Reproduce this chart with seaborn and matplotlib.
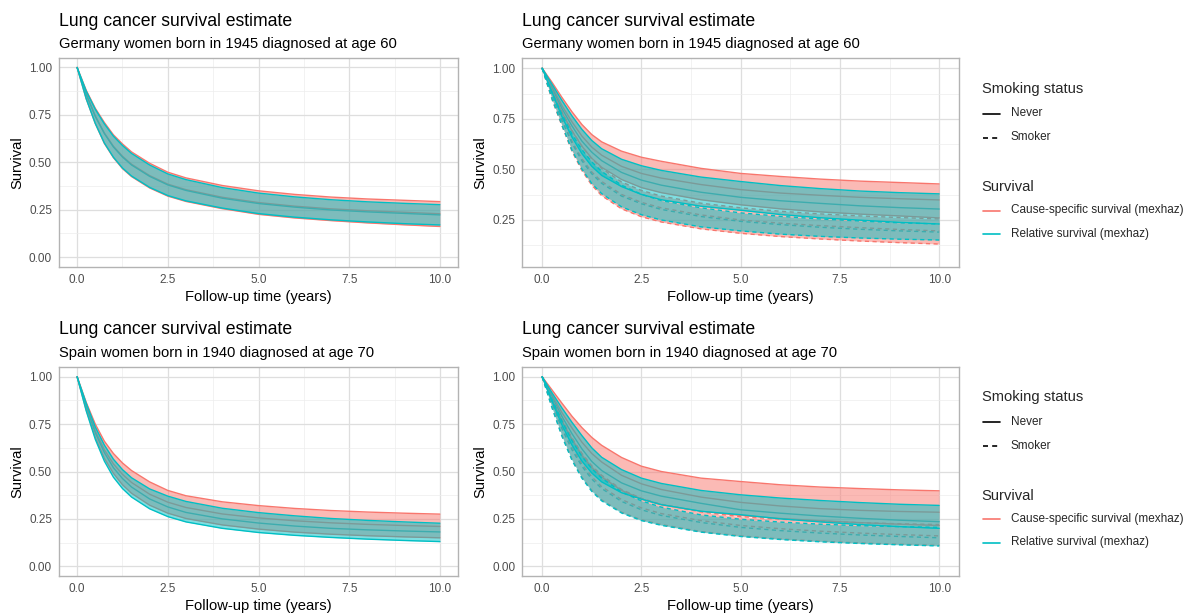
import numpy as np
import pandas as pd
import matplotlib
matplotlib.use("Agg")
import matplotlib.pyplot as plt
import seaborn as sns
from matplotlib.lines import Line2D
from matplotlib.ticker import FixedLocator, FormatStrFormatter

# ===================
# Data (survival estimate, lower / upper CI)
# ===================
TIME = [0, 0.25, 0.5, 0.75, 1, 1.25, 1.5, 2, 2.5, 3, 4, 5, 6, 7, 8, 9, 10]

# Germany, women born 1945, diagnosed at 60 - all
GER_ALL_CSS_EST = [1, 0.860, 0.745, 0.655, 0.585, 0.532, 0.490, 0.430, 0.385, 0.356, 0.316, 0.288, 0.269, 0.255, 0.245, 0.237, 0.229]
GER_ALL_CSS_HI = [1, 0.880, 0.785, 0.710, 0.645, 0.597, 0.555, 0.495, 0.448, 0.418, 0.378, 0.350, 0.331, 0.317, 0.307, 0.300, 0.293]
GER_ALL_CSS_LO = [1, 0.835, 0.705, 0.600, 0.525, 0.467, 0.425, 0.365, 0.322, 0.294, 0.256, 0.226, 0.207, 0.193, 0.181, 0.171, 0.162]
GER_ALL_RS_EST = [1, 0.858, 0.742, 0.652, 0.581, 0.528, 0.486, 0.426, 0.381, 0.352, 0.311, 0.283, 0.264, 0.249, 0.239, 0.231, 0.223]
GER_ALL_RS_HI = [1, 0.876, 0.780, 0.703, 0.638, 0.589, 0.547, 0.486, 0.439, 0.409, 0.367, 0.338, 0.318, 0.303, 0.292, 0.284, 0.277]
GER_ALL_RS_LO = [1, 0.835, 0.705, 0.602, 0.527, 0.470, 0.428, 0.368, 0.325, 0.297, 0.259, 0.230, 0.211, 0.197, 0.186, 0.177, 0.170]

# Germany - by smoking status
GER_NEV_CSS_EST = [1, 0.910, 0.815, 0.735, 0.665, 0.610, 0.570, 0.515, 0.480, 0.457, 0.425, 0.400, 0.383, 0.372, 0.362, 0.355, 0.349]
GER_NEV_CSS_HI = [1, 0.930, 0.855, 0.785, 0.722, 0.672, 0.636, 0.590, 0.560, 0.540, 0.505, 0.480, 0.465, 0.452, 0.442, 0.435, 0.428]
GER_NEV_CSS_LO = [1, 0.890, 0.780, 0.690, 0.615, 0.555, 0.510, 0.450, 0.410, 0.385, 0.350, 0.325, 0.305, 0.290, 0.279, 0.270, 0.260]
GER_NEV_RS_EST = [1, 0.900, 0.800, 0.715, 0.640, 0.585, 0.543, 0.485, 0.447, 0.422, 0.387, 0.362, 0.345, 0.332, 0.320, 0.311, 0.304]
GER_NEV_RS_HI = [1, 0.920, 0.840, 0.765, 0.698, 0.643, 0.602, 0.550, 0.518, 0.495, 0.462, 0.440, 0.420, 0.405, 0.393, 0.385, 0.379]
GER_NEV_RS_LO = [1, 0.880, 0.760, 0.660, 0.578, 0.515, 0.470, 0.415, 0.376, 0.350, 0.318, 0.298, 0.277, 0.261, 0.249, 0.238, 0.230]
GER_SMK_CSS_EST = [1, 0.870, 0.750, 0.640, 0.553, 0.487, 0.440, 0.376, 0.337, 0.310, 0.275, 0.250, 0.234, 0.222, 0.212, 0.203, 0.196]
GER_SMK_CSS_HI = [1, 0.890, 0.785, 0.692, 0.615, 0.552, 0.505, 0.438, 0.396, 0.368, 0.333, 0.310, 0.293, 0.280, 0.270, 0.262, 0.255]
GER_SMK_CSS_LO = [1, 0.845, 0.715, 0.590, 0.495, 0.422, 0.370, 0.305, 0.266, 0.240, 0.206, 0.184, 0.168, 0.156, 0.146, 0.138, 0.131]
GER_SMK_RS_EST = [1, 0.865, 0.740, 0.630, 0.543, 0.478, 0.431, 0.368, 0.330, 0.302, 0.267, 0.243, 0.227, 0.214, 0.204, 0.196, 0.190]
GER_SMK_RS_HI = [1, 0.880, 0.770, 0.675, 0.598, 0.537, 0.490, 0.422, 0.377, 0.346, 0.310, 0.285, 0.268, 0.255, 0.245, 0.236, 0.230]
GER_SMK_RS_LO = [1, 0.848, 0.718, 0.595, 0.502, 0.430, 0.380, 0.315, 0.276, 0.250, 0.216, 0.196, 0.180, 0.169, 0.161, 0.155, 0.151]

# Spain, women born 1940, diagnosed at 70 - all
ESP_ALL_CSS_EST = [1, 0.845, 0.715, 0.615, 0.540, 0.485, 0.442, 0.380, 0.338, 0.310, 0.276, 0.255, 0.240, 0.229, 0.221, 0.215, 0.210]
ESP_ALL_CSS_HI = [1, 0.865, 0.750, 0.660, 0.595, 0.545, 0.505, 0.445, 0.400, 0.372, 0.340, 0.320, 0.305, 0.294, 0.286, 0.280, 0.275]
ESP_ALL_CSS_LO = [1, 0.825, 0.680, 0.570, 0.490, 0.430, 0.385, 0.322, 0.280, 0.252, 0.218, 0.196, 0.180, 0.169, 0.161, 0.155, 0.150]
ESP_ALL_RS_EST = [1, 0.840, 0.705, 0.600, 0.520, 0.463, 0.418, 0.355, 0.313, 0.284, 0.250, 0.228, 0.212, 0.200, 0.192, 0.186, 0.181]
ESP_ALL_RS_HI = [1, 0.860, 0.735, 0.640, 0.565, 0.510, 0.467, 0.408, 0.370, 0.342, 0.306, 0.283, 0.266, 0.252, 0.242, 0.234, 0.227]
ESP_ALL_RS_LO = [1, 0.820, 0.670, 0.555, 0.470, 0.410, 0.365, 0.303, 0.262, 0.234, 0.200, 0.178, 0.163, 0.152, 0.143, 0.136, 0.130]

# Spain - by smoking status
ESP_NEV_CSS_EST = [1, 0.905, 0.810, 0.730, 0.655, 0.595, 0.550, 0.480, 0.435, 0.405, 0.365, 0.337, 0.318, 0.304, 0.295, 0.289, 0.285]
ESP_NEV_CSS_HI = [1, 0.930, 0.860, 0.792, 0.732, 0.680, 0.638, 0.574, 0.528, 0.500, 0.465, 0.447, 0.430, 0.418, 0.410, 0.403, 0.398]
ESP_NEV_CSS_LO = [1, 0.880, 0.765, 0.670, 0.585, 0.520, 0.470, 0.400, 0.355, 0.325, 0.290, 0.268, 0.252, 0.240, 0.230, 0.222, 0.215]
ESP_NEV_RS_EST = [1, 0.895, 0.790, 0.700, 0.620, 0.553, 0.505, 0.440, 0.398, 0.370, 0.332, 0.298, 0.280, 0.265, 0.253, 0.243, 0.235]
ESP_NEV_RS_HI = [1, 0.915, 0.835, 0.760, 0.690, 0.625, 0.575, 0.510, 0.465, 0.437, 0.400, 0.377, 0.360, 0.347, 0.336, 0.327, 0.321]
ESP_NEV_RS_LO = [1, 0.870, 0.745, 0.640, 0.555, 0.492, 0.445, 0.388, 0.354, 0.325, 0.290, 0.272, 0.250, 0.234, 0.220, 0.209, 0.200]
ESP_SMK_CSS_EST = [1, 0.865, 0.735, 0.628, 0.540, 0.472, 0.420, 0.352, 0.308, 0.278, 0.241, 0.215, 0.198, 0.185, 0.175, 0.167, 0.160]
ESP_SMK_CSS_HI = [1, 0.885, 0.775, 0.678, 0.596, 0.530, 0.480, 0.405, 0.358, 0.327, 0.286, 0.262, 0.248, 0.238, 0.230, 0.224, 0.220]
ESP_SMK_CSS_LO = [1, 0.840, 0.690, 0.565, 0.470, 0.400, 0.350, 0.285, 0.245, 0.220, 0.183, 0.160, 0.144, 0.132, 0.123, 0.116, 0.110]
ESP_SMK_RS_EST = [1, 0.860, 0.725, 0.615, 0.528, 0.460, 0.410, 0.342, 0.298, 0.268, 0.231, 0.205, 0.188, 0.175, 0.165, 0.157, 0.150]
ESP_SMK_RS_HI = [1, 0.880, 0.765, 0.663, 0.580, 0.515, 0.465, 0.392, 0.345, 0.312, 0.271, 0.248, 0.233, 0.222, 0.214, 0.209, 0.205]
ESP_SMK_RS_LO = [1, 0.835, 0.685, 0.560, 0.465, 0.395, 0.345, 0.281, 0.241, 0.216, 0.180, 0.157, 0.141, 0.129, 0.120, 0.113, 0.107]

TITLE = "Lung cancer survival estimate"
SUBTITLES = {
    "ger_all": "Germany women born in 1945 diagnosed at age 60",
    "ger_smk": "Germany women born in 1945 diagnosed at age 60",
    "esp_all": "Spain women born in 1940 diagnosed at age 70",
    "esp_smk": "Spain women born in 1940 diagnosed at age 70",
}
CSS = "Cause-specific survival (mexhaz)"
RS = "Relative survival (mexhaz)"
SMOKING_LEVELS = ["Never", "Smoker"]
X_TICKS = [0, 2.5, 5, 7.5, 10]
Y_TICKS = [0, 0.25, 0.5, 0.75, 1.0]

# ===================
# Long table
# ===================
series = [
    ("ger_all", CSS, "Never", GER_ALL_CSS_EST, GER_ALL_CSS_LO, GER_ALL_CSS_HI),
    ("ger_all", RS, "Never", GER_ALL_RS_EST, GER_ALL_RS_LO, GER_ALL_RS_HI),
    ("ger_smk", CSS, "Never", GER_NEV_CSS_EST, GER_NEV_CSS_LO, GER_NEV_CSS_HI),
    ("ger_smk", CSS, "Smoker", GER_SMK_CSS_EST, GER_SMK_CSS_LO, GER_SMK_CSS_HI),
    ("ger_smk", RS, "Never", GER_NEV_RS_EST, GER_NEV_RS_LO, GER_NEV_RS_HI),
    ("ger_smk", RS, "Smoker", GER_SMK_RS_EST, GER_SMK_RS_LO, GER_SMK_RS_HI),
    ("esp_all", CSS, "Never", ESP_ALL_CSS_EST, ESP_ALL_CSS_LO, ESP_ALL_CSS_HI),
    ("esp_all", RS, "Never", ESP_ALL_RS_EST, ESP_ALL_RS_LO, ESP_ALL_RS_HI),
    ("esp_smk", CSS, "Never", ESP_NEV_CSS_EST, ESP_NEV_CSS_LO, ESP_NEV_CSS_HI),
    ("esp_smk", CSS, "Smoker", ESP_SMK_CSS_EST, ESP_SMK_CSS_LO, ESP_SMK_CSS_HI),
    ("esp_smk", RS, "Never", ESP_NEV_RS_EST, ESP_NEV_RS_LO, ESP_NEV_RS_HI),
    ("esp_smk", RS, "Smoker", ESP_SMK_RS_EST, ESP_SMK_RS_LO, ESP_SMK_RS_HI),
]
rows = []
for panel, surv, smoke, est, lo, hi in series:
    for t, e, l, h in zip(TIME, est, lo, hi):
        rows.append({"panel": panel, "survival": surv, "smoking": smoke,
                     "time": t, "est": e, "lo": l, "hi": h})
df = pd.DataFrame(rows)

# ===================
# Style (ggplot theme_light look)
# ===================
sns.set_theme(style="white")
plt.rcParams["font.family"] = ["Liberation Sans", "DejaVu Sans"]

PALETTE = {CSS: "#F8766D", RS: "#00BFC4"}
DASHES = {"Never": "", "Smoker": (3, 2.5)}
LS = {"Never": "-", "Smoker": (0, (3, 2.5))}

W, H = 1197, 614
BASE = 10.6
fig = plt.figure(figsize=(W / 100, H / 100), dpi=100)

# pixel boxes: left, top, right, bottom
BOXES = {
    "ger_all": (59, 58, 458, 266.7),
    "ger_smk": (522.3, 58.3, 959, 266.7),
    "esp_all": (59, 367.3, 458, 575.7),
    "esp_smk": (522.3, 367.3, 959, 575.7),
}
YLIMS = {"ger_all": (-0.05, 1.05), "ger_smk": (0.019, 1.049),
         "esp_all": (-0.05, 1.05), "esp_smk": (-0.05, 1.05)}
TITLE_Y = {"ger_all": 25.7, "ger_smk": 25.7, "esp_all": 334.5, "esp_smk": 334.5}

for panel, (l, t, r, b) in BOXES.items():
    ax = fig.add_axes([l / W, 1 - b / H, (r - l) / W, (b - t) / H])
    sub = df[df["panel"] == panel]

    # estimate lines first, ribbons drawn over them
    sns.lineplot(data=sub, x="time", y="est", hue="survival", style="smoking",
                 palette=PALETTE, dashes=DASHES, hue_order=[CSS, RS],
                 style_order=SMOKING_LEVELS, estimator=None, errorbar=None,
                 linewidth=1.0, legend=False, ax=ax, zorder=2)

    z = 3
    for surv in [CSS, RS]:
        for smoke in SMOKING_LEVELS:
            g = sub[(sub["survival"] == surv) & (sub["smoking"] == smoke)]
            if g.empty:
                continue
            col = PALETTE[surv]
            ax.fill_between(g["time"], g["lo"], g["hi"], color=col, alpha=0.5,
                            linewidth=0, zorder=z)
            ax.plot(g["time"], g["lo"], color=col, ls=LS[smoke], lw=1.0, zorder=z + 1)
            ax.plot(g["time"], g["hi"], color=col, ls=LS[smoke], lw=1.0, zorder=z + 1)
            z += 2

    ax.set_xlim(-0.5, 10.5)
    ax.set_ylim(*YLIMS[panel])
    ax.xaxis.set_major_locator(FixedLocator(X_TICKS))
    ax.yaxis.set_major_locator(FixedLocator(Y_TICKS))
    ax.xaxis.set_minor_locator(FixedLocator([1.25, 3.75, 6.25, 8.75]))
    ax.yaxis.set_minor_locator(FixedLocator([0.125, 0.375, 0.625, 0.875]))
    ax.xaxis.set_major_formatter(FormatStrFormatter("%.1f"))
    ax.yaxis.set_major_formatter(FormatStrFormatter("%.2f"))
    ax.grid(which="major", color="#DEDEDE", linewidth=0.9)
    ax.grid(which="minor", color="#EDEDED", linewidth=0.5)
    ax.set_axisbelow(True)
    ax.set_facecolor("white")
    for sp in ax.spines.values():
        sp.set_color("#B3B3B3")
        sp.set_linewidth(1.0)
    ax.tick_params(which="major", length=2.5, width=0.8, color="#B3B3B3",
                   labelsize=BASE * 0.8, labelcolor="#4D4D4D", pad=2.5)
    ax.tick_params(which="minor", length=0)

    ax.set_xlabel("Follow-up time (years)", fontsize=BASE, color="black")
    ax.set_ylabel("Survival", fontsize=BASE, color="black")
    # label positions relative to each panel box
    ax.xaxis.set_label_coords(0.5, -23.5 / (b - t))
    ax.yaxis.set_label_coords(-34.5 / (r - l), 0.5)

    fig.text(l / W, 1 - TITLE_Y[panel] / H, TITLE, fontsize=BASE * 1.2,
             color="black", ha="left", va="baseline")
    fig.text(l / W, 1 - (TITLE_Y[panel] + 22.3) / H, SUBTITLES[panel],
             fontsize=BASE, color="black", ha="left", va="baseline")

# ===================
# Legends (drawn beside the right-hand panels)
# ===================
def draw_legend(y0):
    fig.text(981.7 / W, 1 - y0 / H, "Smoking status", fontsize=BASE,
             ha="left", va="center")
    fig.text(981.7 / W, 1 - (y0 + 98) / H, "Survival", fontsize=BASE,
             ha="left", va="center")
    keys = [
        (y0 + 24.5, "black", "-", "Never"),
        (y0 + 48.5, "black", (0, (3, 2.5)), "Smoker"),
        (y0 + 121.5, PALETTE[CSS], "-", CSS),
        (y0 + 145, PALETTE[RS], "-", RS),
    ]
    for y, col, ls, lab in keys:
        fig.add_artist(Line2D([983 / W, 1000 / W], [1 - y / H, 1 - y / H],
                              transform=fig.transFigure, color=col, ls=ls, lw=1.2))
        fig.text(1010.7 / W, 1 - y / H, lab, fontsize=BASE * 0.8,
                 ha="left", va="center")

draw_legend(89)
draw_legend(397.5)

fig.savefig("out.png", dpi=100, facecolor="white")
